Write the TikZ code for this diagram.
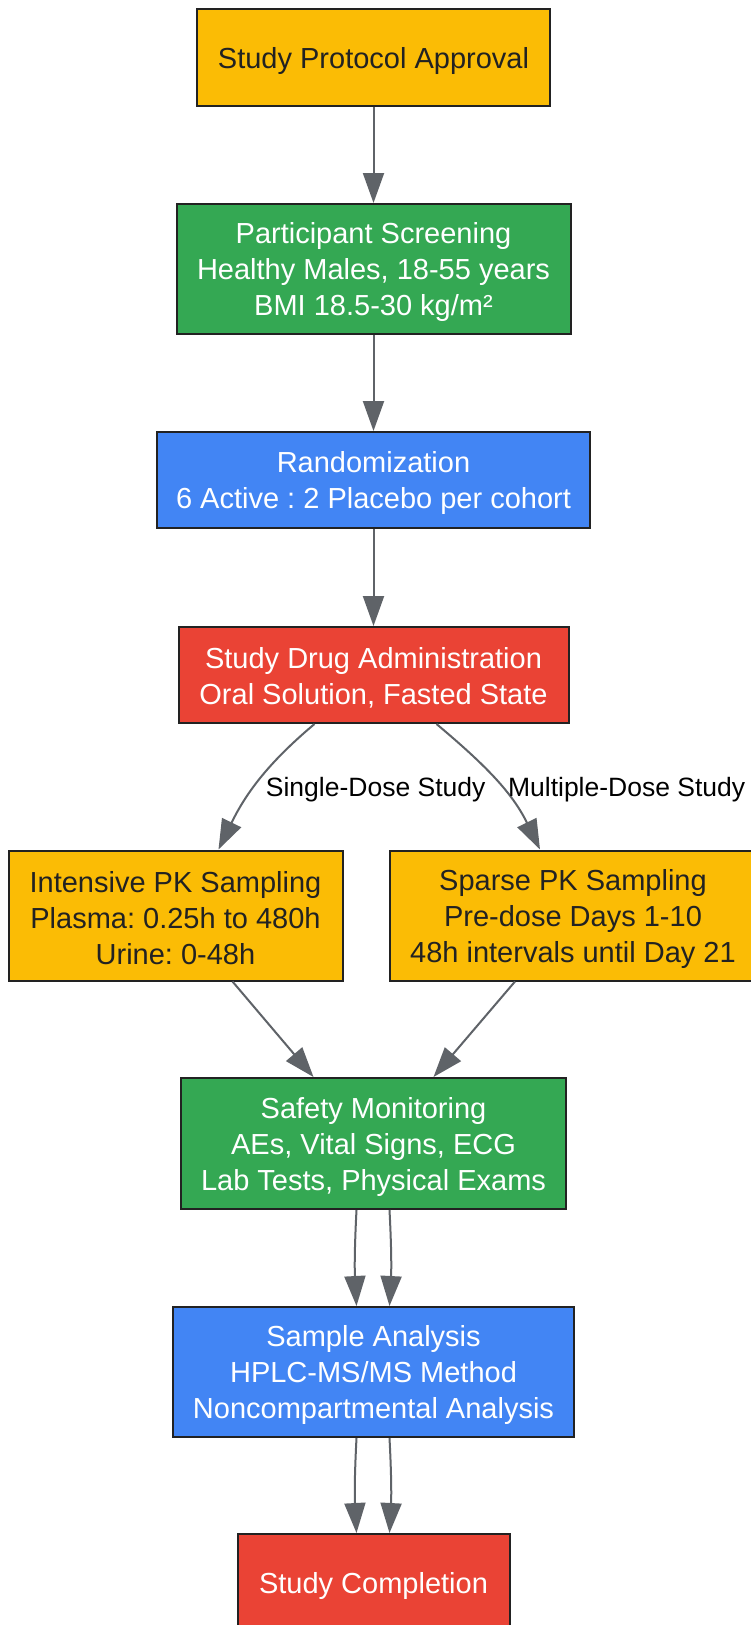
\documentclass[tikz,border=0pt]{standalone}
\usepackage{fontspec}
\setmainfont{Liberation Sans}
\usetikzlibrary{arrows.meta}
\frenchspacing
\tikzset{%
  box/.style={rectangle,draw=cb,line width=2pt,fill=#1,text=white,align=center,
    inner sep=0pt,font=\fontsize{29}{36}\selectfont,text height=29pt},
  box/.default=c0,
  two/.style={text height=63pt},
  three/.style={text height=99pt},
  flow/.style={draw=ca,line width=2pt,-{Triangle[length=30pt,width=21pt]}},
  lbl/.style={font=\fontsize{26.5}{30}\selectfont,text=black,inner sep=0pt}
}
\definecolor{c0}{HTML}{FBBC05}
\definecolor{c1}{HTML}{34A853}
\definecolor{c2}{HTML}{4285F4}
\definecolor{c3}{HTML}{EA4335}
\definecolor{cb}{HTML}{222222}
\definecolor{ct}{HTML}{222222}
\definecolor{ca}{HTML}{5F6368}
\begin{document}
\begin{tikzpicture}[x=1pt,y=1pt]
  \fill[white] (0,0) rectangle (750,-1625);
  \useasboundingbox (0,0) rectangle (750,-1625);
  \node[box=c0,text=ct,minimum width=353pt,minimum height=97pt] (b0) at (373.5,-57.5) {Study Protocol Approval};
  \node[box=c1,three,minimum width=394pt,minimum height=130pt] (b1) at (373.5,-269) {Participant Screening\\Healthy Males, 18-55 years\\BMI 18.5-30 kg/m²};
  \node[box=c2,two,minimum width=433pt,minimum height=96pt] (b2) at (373.5,-480) {Randomization\\6 Active : 2 Placebo per cohort};
  \node[box=c3,two,minimum width=390pt,minimum height=96pt] (b3) at (373.5,-675) {Study Drug Administration\\Oral Solution, Fasted State};
  \node[box=c0,three,text=ct,minimum width=334pt,minimum height=130pt] (b4) at (175.5,-915.5) {Intensive PK Sampling\\Plasma: 0.25h to 480h\\Urine: 0-48h};
  \node[box=c0,three,text=ct,minimum width=366pt,minimum height=130pt] (b5) at (573,-915.5) {Sparse PK Sampling\\Pre-dose Days 1-10\\48h intervals until Day 21};
  \node[box=c1,three,minimum width=385pt,minimum height=131pt] (b6) at (373.5,-1143.5) {Safety Monitoring\\AEs, Vital Signs, ECG\\Lab Tests, Physical Exams};
  \node[box=c2,three,minimum width=401pt,minimum height=130pt] (b7) at (373.5,-1372) {Sample Analysis\\HPLC-MS/MS Method\\Noncompartmental Analysis};
  \node[box=c3,minimum width=272pt,minimum height=96pt] (b8) at (373.5,-1582) {Study Completion};
  %%%
  \draw[flow] (b0) -- (b1);
  \draw[flow] (b1) -- (b2);
  \draw[flow] (b2) -- (b3);
  \draw[flow] ([xshift=-59pt]b3.south) to[out=-140,in=64]
    node[lbl,pos=0.5,anchor=west,xshift=6pt,yshift=-9pt] (l0) {Single-Dose Study} ([xshift=43pt]b4.north);
  \draw[flow] ([xshift=63pt]b3.south) to[out=-40,in=116]
    node[lbl,pos=0.5,anchor=west,xshift=11pt,yshift=-9pt] (l1) {Multiple-Dose Study} ([xshift=-33pt]b5.north);
  \draw[flow] ([xshift=57pt]b4.south) -- ([xshift=-60pt]b6.north);
  \draw[flow] ([xshift=-58pt]b5.south) -- ([xshift=60pt]b6.north);
  \draw[flow] ([xshift=-17pt]b6.south) to[out=-93,in=93] ([xshift=-17pt]b7.north);
  \draw[flow] ([xshift=16pt]b6.south) to[out=-87,in=87] ([xshift=16pt]b7.north);
  \draw[flow] ([xshift=-17pt]b7.south) to[out=-93,in=93] ([xshift=-17pt]b8.north);
  \draw[flow] ([xshift=16pt]b7.south) to[out=-87,in=87] ([xshift=16pt]b8.north);
\end{tikzpicture}
\end{document}
